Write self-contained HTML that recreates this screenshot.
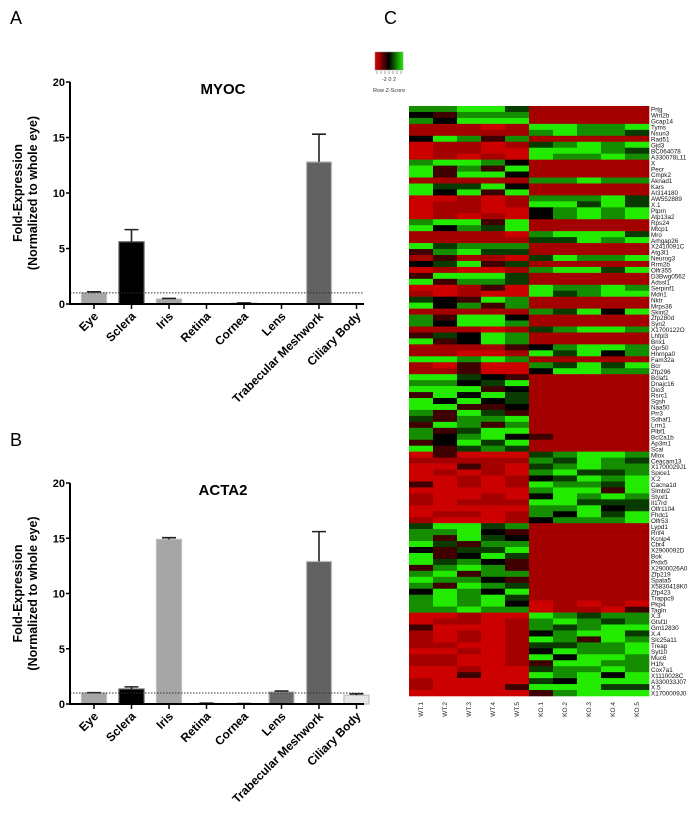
<!DOCTYPE html>
<html><head><meta charset="utf-8"><style>
html,body{margin:0;padding:0;background:#fff;}
svg{display:block;font-family:"Liberation Sans",Arial,sans-serif;}
</style></head><body>
<svg id="fig" width="700" height="824" viewBox="0 0 700 824" xmlns="http://www.w3.org/2000/svg">
<text x="10" y="24" font-size="18">A</text>
<text x="10" y="446" font-size="18">B</text>
<text x="384" y="24" font-size="18">C</text>
<g id="chartA"></g>
<g id="chartB"></g>
<g id="heat"></g>
</svg>
<script>
const categories = ["Eye","Sclera","Iris","Retina","Cornea","Lens","Trabecular Meshwork","Ciliary Body"];
const myocValues = [1.0,5.6,0.45,0,0.08,0,12.8,0];
const myocErrors = [0.1,1.1,0.05,0,0.02,0,2.5,0];
const acta2Values = [1.0,1.35,14.9,0.05,0.03,1.1,12.9,0.8];
const acta2Errors = [0.03,0.2,0.15,0.02,0.01,0.07,2.7,0.12];
const yTicks = [0,5,10,15,20];
const barColors = ["#a6a6a6","#000000","#a6a6a6","#8a8a8a","#8a8a8a","#6a6a6a","#626262","#e6e6e6"];
const refLine = 1;

const heatCols = ["WT.1","WT.2","WT.3","WT.4","WT.5","KO.1","KO.2","KO.3","KO.4","KO.5"];
const heatGenes = ["Prtg","Wnt2b","Gcap14","Tyms","Nsun3","Rad51","Gjd3","BC064078","A330078L11","X","Pecr","Cmpk2","Aknad1","Kars","AI314180","AW552889","X.1","Ptprn","Atp13a2","Rps24","Mtcp1","Mro","Arhgap26","X2410091C","Atg3l1","Neurog3","Rrm2b","Olfr355","D3Bwg0562","Adssl1","Serpinf1","Mdn1","Nktr","Mrps36","Skint2","Zfp280d","Syn2","X1700122O","Lhfpl3","Brix1","Gpr50","Hnrnpa0","Fam32a","Bcr","Zfp296","Bclaf1","Dnajc16","Dio3","Rsrc1","Sgsh","Naa50","Prr3","Sdhaf1","Lrrn1","Plbf1","Bcl2a1b","Ap3m1","Scai","Mlox","Ceacam13","X1700029J1","Spice1","X.2","Cacna1d","Slmbl2","Styxl1","Il17rd","Olfr1104","Fhdc1","Olfr53","Lypd1","Rnf4","Kcnip4","Cbr4","X2900092D","Bok","Prdx5","X2900026A0","Zfp219","Spata5","X5830418K0","Zfp423","Trappc9","Pkp4","Tagln","X.3","Gtsf1l","Gm12830","X.4","Slc25a11","Treap","Syt10","Muc6","H1fx","Cox7a1","X1110028C","A330033J07","X.5","X1700009J0"];
const heatCodes = ["ggGGdrrrrr","kmgggrrrrr","gkGGGrrrrr","rrrRrGGggG","rrrrrgGggd","kGgmgrrrrr","RrrRrdgGgG","RrrRRGGGgd","RrRrRGggGg","gGGgkrrrrr","GmgmGrrrrr","GmGGkrrrrr","rrrrrggGgg","GddGkrrrrr","GkGmGrrrrr","RRrRrgggGd","RrrRrGGdGd","RrrRRkgGgG","RrRrRkgGgG","gGGmGrrrrr","GkgdGrrrrr","rrrrRgGGGd","rrrrrddGgG","Gdgggrrrrr","mgGddrrrrr","rmrrRdGggG","kdGmdrrrrr","RrRRrgGGdG","mGGGdrrrrr","Gmggdrrrrr","RRrmRGggGg","rRrRRGdgGG","dkmGgrrrrr","Gkgmgrrrrr","rrrrrgdGkG","gmGGkrrrrr","gkGGgrrrrr","rrrRrdgGGg","mdkGgrrrrr","GmkGgrrrrr","rrrrmkgGGg","rrRRrGdGkg","GGgGgrrrrr","rRmRRgdGdG","rrmRRkGGgg","GGdkmrrrrr","ggkdGrrrrr","GGGmkrrrrr","mGkGdrrrrr","GkGkdrrrrr","GGmmkrrrrr","gmGdmrrrrr","dmggGrrrrr","mGgmgrrrrr","gmdGGrrrrr","gkgGkmrrrr","mkGdGrrrrr","Gmdgdrrrrr","RmRRRdgGGg","rrrrrgdGgd","RRmrRdgGgg","RrRrRgGddg","RRrRrkdGgG","mRrRrGggdG","RRRRRgGGmG","rRRrRkGgGg","rRrrrGGddd","RRRRRggGkd","RrrRrgkGdG","rRRRrkgggG","dGGdgrrrrr","ggGkmrrrrr","gmGdkrrrrr","Gdmggrrrrr","kmddGrrrrr","GmkGdrrrrr","Gdgkmrrrrr","mgGgmrrrrr","gGmggrrrrr","Gggkmrrrrr","gmGgdrrrrr","kGgkGrrrrr","gGgGdrrrrr","gGgGkRrRrR","ggGggRrrRm","RRrRRGgdgg","RrrRrgGgdg","mRRRrgdgGG","rRrRrkgGGd","rRrRrGgmGg","rrRRrddggG","RRrRrkGggG","rrRRrGkGGg","rrRRrmGGgg","RRrRRdggGg","RRmRRGgGkG","rRRRRdkGGG","rRRRmGGGdd","RRRRRmgGGG"];
const zCode = {G:2, g:1.2, d:0.5, k:0, m:-0.6, r:-1.6, R:-2};

const NS = "http://www.w3.org/2000/svg";
function mk(parent, tag, attrs){const e=document.createElementNS(NS,tag);for(const k in attrs)e.setAttribute(k,attrs[k]);parent.appendChild(e);return e;}

function barChart(gId, title, values, errors, y0px, y20px){
  const g = document.getElementById(gId);
  const x0 = 70, xEnd = 364, step = 37.5, firstC = 94, bw = 25;
  const yScale = v => y0px - (v/20)*(y0px - y20px);
  const xScale = i => firstC + i*step;
  const t = mk(g,"text",{x:223,y:y20px+12,"font-size":15,"font-weight":"bold","text-anchor":"middle"});
  t.textContent = title;
  
  
  const cy = (y0px+y20px)/2;
  const yt1 = mk(g,"text",{x:0,y:0,"font-size":12.5,"font-weight":"bold","text-anchor":"middle",transform:`translate(22,${cy}) rotate(-90)`});
  yt1.textContent = "Fold-Expression";
  
  
  const yt2 = mk(g,"text",{x:0,y:0,"font-size":12.5,"font-weight":"bold","text-anchor":"middle",transform:`translate(37,${cy}) rotate(-90)`});
  yt2.textContent = "(Normalized to whole eye)";
  
  
  // bars
  values.forEach((v,i)=>{
    const cx = xScale(i), top = yScale(v);
    const r = mk(g,"rect",{x:cx-bw/2,y:top,width:bw,height:Math.max(0,y0px-top),fill:barColors[i],stroke:i===1?"#555":"#bdbdbd","stroke-width":1.2});
    
    
    if(errors[i]>0){
      const ye = yScale(v+errors[i]);
      const el = mk(g,"path",{d:`M${cx},${top} V${ye} M${cx-7},${ye} H${cx+7}`,stroke:"#222","stroke-width":1.6,fill:"none"});
      
      
    }
  });
  // reference line
  const rl = mk(g,"line",{x1:x0,x2:xEnd,y1:yScale(refLine),y2:yScale(refLine),stroke:"#333","stroke-width":1,"stroke-dasharray":"1.5,1.5"});
  
  
  // axes
  const ax = mk(g,"path",{d:`M${x0},${y20px} V${y0px} H${xEnd}`,stroke:"#000","stroke-width":2,fill:"none"});
  
  
  yTicks.forEach(v=>{
    const y = yScale(v);
    mk(g,"line",{x1:x0-4,x2:x0,y1:y,y2:y,stroke:"#000","stroke-width":1.5});
    const tl = mk(g,"text",{x:x0-5,y:y+4,"font-size":11,"font-weight":"bold","text-anchor":"end"});
    tl.textContent = v;
    
    
  });
  categories.forEach((c,i)=>{
    const cx = xScale(i);
    mk(g,"line",{x1:cx,x2:cx,y1:y0px,y2:y0px+5,stroke:"#000","stroke-width":1.5});
    const tl = mk(g,"text",{x:0,y:0,"font-size":12,"font-weight":"bold","text-anchor":"end",transform:`translate(${cx+5},${y0px+13}) rotate(-45)`});
    tl.textContent = c;
    
    
  });
}
barChart("chartA","MYOC",myocValues,myocErrors,304,82);
barChart("chartB","ACTA2",acta2Values,acta2Errors,704,483);

function zColor(z){
  if(z>=0){const f=Math.min(z,2)/2;return `rgb(${Math.round(34*f)},${Math.round(235*f)},0)`;}
  const f=Math.min(-z,2)/2;return `rgb(${Math.round(205*f)},0,0)`;
}
(function(){
  const g = document.getElementById("heat");
  const left=409, right=649, top=106, bottom=696;
  const cw=(right-left)/heatCols.length, rh=(bottom-top)/heatGenes.length;
  heatCodes.forEach((row,ri)=>{
    row.split("").forEach((ch,ci)=>{
      const r = mk(g,"rect",{x:left+ci*cw,y:top+ri*rh,width:cw+0.3,height:rh+0.3,fill:zColor(zCode[ch])});
      
      
    });
  });
  heatGenes.forEach((gn,ri)=>{
    const t = mk(g,"text",{x:right+2,y:top+ri*rh+rh-0.3,"font-size":6.3,fill:"#111"});
    t.textContent = gn;
    
    
  });
  heatCols.forEach((c,ci)=>{
    const cx = left+ci*cw+cw/2+2;
    const t = mk(g,"text",{x:0,y:0,"font-size":6.5,"text-anchor":"end",fill:"#222",transform:`translate(${cx},${bottom+6}) rotate(-90)`});
    t.textContent = c;
    
    
  });
  // color key
  const key = mk(g,"g",{});
  
  
  const defs = mk(key,"defs",{});
  const lg = mk(defs,"linearGradient",{id:"kg",x1:"0",x2:"1",y1:"0",y2:"0"});
  mk(lg,"stop",{offset:"0","stop-color":"#e00000"});
  mk(lg,"stop",{offset:"0.5","stop-color":"#000"});
  mk(lg,"stop",{offset:"1","stop-color":"#22ee00"});
  mk(key,"rect",{x:375,y:52,width:28,height:18,fill:"url(#kg)",stroke:"#888","stroke-width":0.5});
  [377,381,385,389,393,397,401].forEach(x=>mk(key,"line",{x1:x,x2:x,y1:71,y2:74,stroke:"#444","stroke-width":0.5}));
  const kl = mk(key,"text",{x:389,y:81,"font-size":5.5,"text-anchor":"middle",fill:"#333"});
  kl.textContent = "-2  0  2";
  const kt = mk(key,"text",{x:389,y:92,"font-size":5.5,"text-anchor":"middle",fill:"#333"});
  kt.textContent = "Row Z-Score";
})();
</script>
</body></html>
